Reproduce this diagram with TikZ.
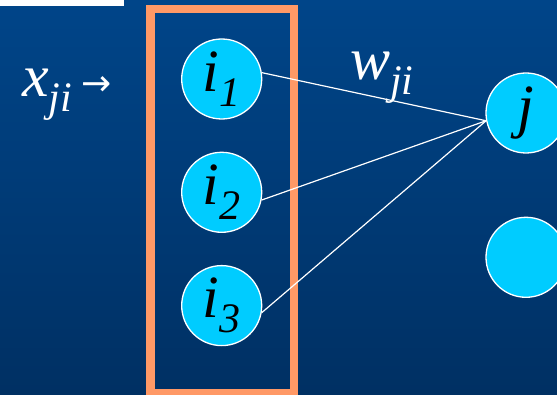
\documentclass[tikz,border=0pt]{standalone}
\usepackage{fontspec}
\setmainfont{Liberation Serif}
\newfontfamily\arrowfont{DejaVu Sans}
\usetikzlibrary{positioning}
\definecolor{BGtop}{RGB}{0, 69, 137}
\definecolor{BGbottom}{RGB}{0, 48, 99}
\definecolor{NEUcyan}{RGB}{0, 204, 255}
\definecolor{BOXorange}{RGB}{255, 153, 102}
\newcommand{\lowsub}[1]{\raisebox{-15pt}{\fontsize{42}{42}\selectfont #1}}
\tikzset{
    neuron/.style={
        circle,
        draw=white,
        fill=NEUcyan,
        line width=1.3pt,
        minimum size=80pt,
        inner sep=0pt,
        font=\fontsize{60}{60}\selectfont\itshape,
        text=black
    },
    link/.style={
        draw=white,
        line width=1.2pt
    },
    groupbox/.style={
        draw=BOXorange,
        line width=8.5pt
    },
    % math labels on the background
    symlabel/.style={
        inner sep=0pt,
        text=white,
        font=\fontsize{60}{60}\selectfont\itshape
    }
}
\begin{document}
\begin{tikzpicture}[x=1pt, y=1pt, node distance=32pt]
    \useasboundingbox (0,0) rectangle (557,394);
    \shade[top color=BGtop, bottom color=BGbottom] (0,0) rectangle (557,394);
    \fill[white] (0,388) rectangle (124,394);

    % input layer
    \node[neuron] (i1) at (221.7,315) {i\lowsub{1}};
    \node[neuron, below=of i1] (i2) {i\lowsub{2}};
    \node[neuron, below=of i2] (i3) {i\lowsub{3}};
    \draw[groupbox] (150.5,1) rectangle (294,385);

    % output layer
    \node[neuron] (j) at (526,281) {j};
    \node[neuron, below=63pt of j] (k) {};

    \draw[link] (i1.9) -- (j.191);
    \draw[link] (i2.-11) -- (j.191);
    \draw[link] (i3.-10) -- (j.191);

    \node[symlabel, anchor=base west] (xin) at (22,297)
        {x\lowsub{ji}\hspace{9pt}{\upshape\arrowfont\fontsize{36}{36}\selectfont\raisebox{1pt}{→}}};
    \node[symlabel, anchor=base west] (wji) at (350,314) {w\lowsub{ji}};
\end{tikzpicture}
\end{document}
